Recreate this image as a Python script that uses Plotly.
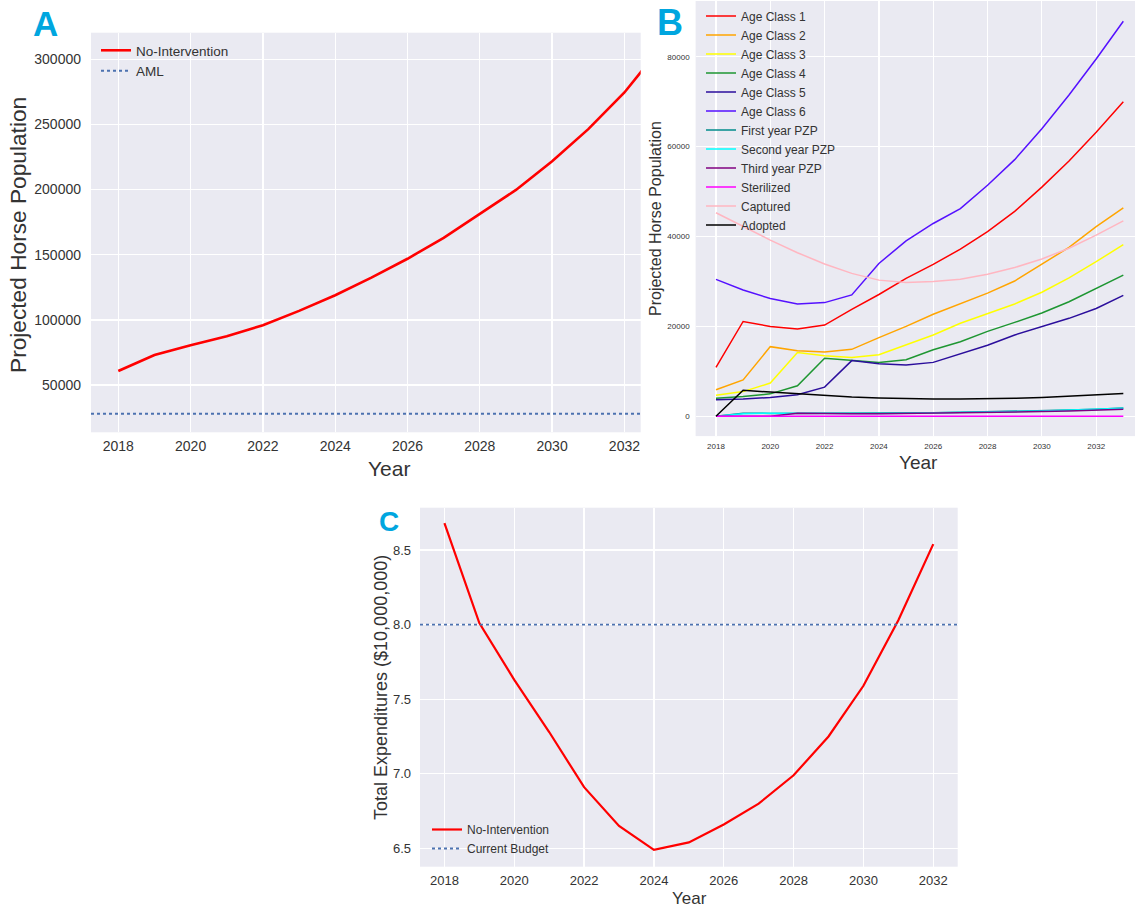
import plotly.graph_objects as go

W, H = 1135, 909


def px(x):
    return x / W


def py(y):
    return 1 - y / H


# ---------------- data ----------------
years_a = [2018, 2019, 2020, 2021, 2022, 2023, 2024, 2025, 2026, 2027, 2028, 2029, 2030, 2031, 2032, 2033]
no_intervention_pop = [60700, 73000, 80600, 87500, 95900, 106900, 118900, 132400, 146900,
                       163000, 181400, 199700, 221700, 246400, 274500, 309000]
aml_value = 28000

years_b = [2018, 2019, 2020, 2021, 2022, 2023, 2024, 2025, 2026, 2027, 2028, 2029, 2030, 2031, 2032, 2033]
age_class_1 = [10900, 21100, 20000, 19450, 20300, 23800, 27100, 30700, 33800, 37200, 41100, 45600, 51000, 56800, 63200, 70000]
age_class_2 = [5900, 8100, 15500, 14600, 14300, 14900, 17500, 20000, 22700, 25000, 27400, 30100, 33800, 37600, 42200, 46400]
age_class_3 = [4700, 5500, 7400, 14200, 13500, 13100, 13700, 15900, 18100, 20700, 22800, 25000, 27600, 30800, 34400, 38200]
age_class_4 = [4000, 4400, 5000, 6800, 12900, 12400, 12000, 12600, 14800, 16600, 18900, 20900, 23000, 25500, 28500, 31400]
age_class_5 = [3700, 3850, 4200, 4800, 6500, 12400, 11700, 11400, 12000, 13900, 15800, 18100, 20000, 21800, 24000, 26900]
age_class_6 = [30470, 28100, 26200, 25000, 25300, 27000, 34000, 39050, 42900, 46200, 51400, 57100, 64000, 71500, 79500, 87900]
first_year_pzp = [0, 700, 650, 650, 650, 650, 700, 750, 800, 900, 1000, 1100, 1250, 1400, 1600, 1850]
second_year_pzp = [0, 600, 700, 650, 600, 600, 650, 700, 750, 850, 950, 1050, 1200, 1350, 1550, 1800]
third_year_pzp = [0, 0, 0, 700, 600, 600, 600, 650, 700, 750, 850, 950, 1050, 1200, 1350, 1550]
sterilized = [0, 0, 0, 0, 0, 0, 0, 0, 0, 0, 0, 0, 0, 0, 0, 0]
captured = [45300, 42200, 39200, 36400, 33900, 31800, 30300, 29800, 30000, 30500, 31600, 33100, 35000, 37400, 40300, 43500]
adopted = [0, 5800, 5400, 5000, 4600, 4300, 4100, 3900, 3850, 3850, 3900, 4000, 4200, 4450, 4750, 5050]

b_series_names = ["Age Class 1", "Age Class 2", "Age Class 3", "Age Class 4", "Age Class 5", "Age Class 6",
                  "First year PZP", "Second year PZP", "Third year PZP", "Sterilized", "Captured", "Adopted"]
b_series_values = [age_class_1, age_class_2, age_class_3, age_class_4, age_class_5, age_class_6,
                   first_year_pzp, second_year_pzp, third_year_pzp, sterilized, captured, adopted]
b_series_colors = ["#FF0000", "#FFA500", "#FFFF00", "#1E9632", "#2B0E9C", "#5511FF",
                   "#008B8B", "#00FFFF", "#800080", "#FF00FF", "#FFB6C1", "#000000"]

years_c = [2018, 2019, 2020, 2021, 2022, 2023, 2024, 2025, 2026, 2027, 2028, 2029, 2030, 2031, 2032]
expenditures = [8.68, 8.01, 7.63, 7.28, 6.91, 6.65, 6.49, 6.54, 6.66, 6.80, 6.99, 7.25, 7.59, 8.03, 8.54]
current_budget = 8.0

year_ticks = [2018, 2020, 2022, 2024, 2026, 2028, 2030, 2032]
a_yticks = [50000, 100000, 150000, 200000, 250000, 300000]
b_yticks = [0, 20000, 40000, 60000, 80000]
c_yticks = [6.5, 7.0, 7.5, 8.0, 8.5]

# ---------------- style ----------------
BG = "#EAEAF2"
TXT = "#333333"
SANS = "Liberation Sans, Arial, sans-serif"
LETTER = "#00A6DF"

fig = go.Figure()

# Panel A
fig.add_trace(go.Scatter(x=years_a, y=no_intervention_pop, mode="lines", name="No-Intervention",
                         line=dict(color="#FF0000", width=2.6), xaxis="x", yaxis="y",
                         legend="legend", legendrank=1))
fig.add_shape(type="line", xref="x domain", yref="y", x0=0, x1=1, y0=aml_value, y1=aml_value,
              line=dict(color="#4C72B0", width=2, dash="dot"), name="AML", showlegend=True,
              legend="legend", legendrank=2, layer="above")

# Panel B
for nm, vals, col in zip(b_series_names, b_series_values, b_series_colors):
    fig.add_trace(go.Scatter(x=years_b, y=vals, mode="lines", name=nm,
                             line=dict(color=col, width=1.5), xaxis="x2", yaxis="y2",
                             legend="legend2"))

# Panel C
fig.add_trace(go.Scatter(x=years_c, y=expenditures, mode="lines", name="No-Intervention",
                         line=dict(color="#FF0000", width=2.2), xaxis="x3", yaxis="y3",
                         legend="legend3", legendrank=1))
fig.add_shape(type="line", xref="x3 domain", yref="y3", x0=0, x1=1, y0=current_budget, y1=current_budget,
              line=dict(color="#4C72B0", width=1.8, dash="dot"), name="Current Budget", showlegend=True,
              legend="legend3", legendrank=2, layer="above")


def axis(domain, rng, tickvals, size, anchor, standoff, fmt):
    return dict(domain=domain, range=rng, tickmode="array", tickvals=tickvals, tickformat=fmt,
                showgrid=True, gridcolor="white", gridwidth=1.3, zeroline=False,
                showline=False, ticks="", anchor=anchor, ticklabelstandoff=standoff,
                tickfont=dict(family=SANS, size=size, color=TXT), fixedrange=True)


layout = dict(
    width=W, height=H, margin=dict(l=0, r=0, t=0, b=0),
    paper_bgcolor="white", plot_bgcolor=BG, showlegend=True,
    xaxis=axis([px(91), px(640.7)], [2017.245, 2032.45], year_ticks, 14, "y", 4, "d"),
    yaxis=axis([py(432.3), py(32.7)], [13700, 320400], a_yticks, 14, "x", 9, "d"),
    xaxis2=axis([px(695.6), px(1135)], [2017.25, 2033.43], year_ticks, 8, "y2", 4, "d"),
    yaxis2=axis([py(436.1), py(1.0)], [-4400, 92400], b_yticks, 8, "x2", 5, "d"),
    xaxis3=axis([px(420), px(957.7)], [2017.3, 2032.7], year_ticks, 13, "y3", 4, "d"),
    yaxis3=axis([py(866.7), py(507.7)], [6.377, 8.784], c_yticks, 13, "x3", 8, ".1f"),
    legend=dict(x=px(96), y=py(35), xanchor="left", yanchor="top", bgcolor="rgba(0,0,0,0)",
                font=dict(family=SANS, size=13.5, color=TXT), tracegroupgap=0),
    legend2=dict(x=px(701), y=py(1.5), xanchor="left", yanchor="top", bgcolor="rgba(0,0,0,0)",
                 font=dict(family=SANS, size=12, color=TXT), tracegroupgap=0),
    legend3=dict(x=px(427), y=py(815), xanchor="left", yanchor="top", bgcolor="rgba(0,0,0,0)",
                 font=dict(family=SANS, size=12, color=TXT), tracegroupgap=0),
)
fig.update_layout(**layout)

annotations = [
    # panel letters
    dict(text="<b>A</b>", x=px(45), y=py(23.5), font=dict(family=SANS, size=35, color=LETTER)),
    dict(text="<b>B</b>", x=px(670), y=py(22.5), font=dict(family=SANS, size=36, color=LETTER)),
    dict(text="<b>C</b>", x=px(389), y=py(521.5), font=dict(family=SANS, size=28, color=LETTER)),
    # axis titles
    dict(text="Projected Horse Population", x=px(18), y=py(235), textangle=-90,
         font=dict(family=SANS, size=22.7, color=TXT)),
    dict(text="Year", x=px(389), y=py(468), font=dict(family=SANS, size=21, color=TXT)),
    dict(text="Projected Horse Population", x=px(655), y=py(219), textangle=-90,
         font=dict(family=SANS, size=16, color=TXT)),
    dict(text="Year", x=px(918), y=py(462), font=dict(family=SANS, size=19, color=TXT)),
    dict(text="Total Expenditures ($10,000,000)", x=px(381), y=py(688), textangle=-90,
         font=dict(family=SANS, size=18, color=TXT)),
    dict(text="Year", x=px(689), y=py(898), font=dict(family=SANS, size=17, color=TXT)),
]
for a in annotations:
    a.update(xref="paper", yref="paper", showarrow=False, xanchor="center", yanchor="middle")
    fig.add_annotation(**a)

fig.write_html("out.html", config={"displayModeBar": False, "staticPlot": True},
               post_script="document.body.style.margin='0';document.body.style.overflow='hidden';")
